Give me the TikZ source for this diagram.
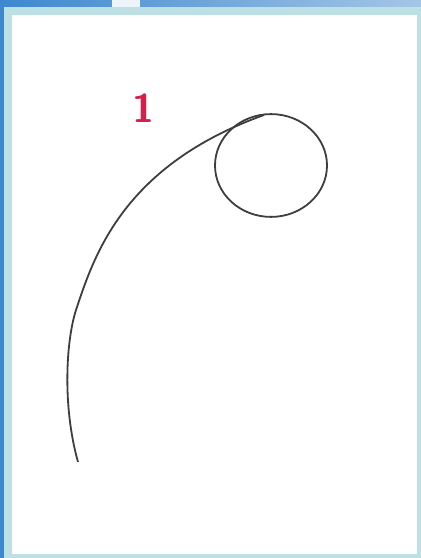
\documentclass[tikz,border=0pt]{standalone}
\usepackage{xcolor}
\usepackage{tikz}
\definecolor{bgBlue}{HTML}{3D88CF}
\definecolor{bgLight}{HTML}{A4C6E6}
\definecolor{frameTeal}{HTML}{BCE0E3}
\definecolor{numRed}{HTML}{D4214C}
\definecolor{inkGray}{HTML}{3E3E3E}

\begin{document}
\begin{tikzpicture}[x=0.5pt, y=-0.5pt]
    % backdrop and frame
    \fill[bgBlue] (0,0) rectangle (421,558);
    \shade[left color=bgBlue, right color=bgLight] (0,0) rectangle (421,7);
    \fill[white!80!bgLight] (112,0) rectangle (140,7);
    \fill[frameTeal] (4,7) rectangle (421,558);
    \fill[white] (12,15) rectangle (417,554);
    % label, circle and curve
    \node[text=numRed, font=\fontsize{20}{20}\sffamily\bfseries] (num) at (143,108) {1};
    \coordinate (ctr) at (271,165.5);
    \coordinate (tail) at (78,462);
    \coordinate (bend) at (77,307);
    \coordinate (top) at (264,115);
    \draw[inkGray, line width=0.9pt] (ctr) ellipse [x radius=28pt, y radius=25.7pt];
    \draw[inkGray, line width=0.9pt]
        (tail) .. controls (62,405) and (66,338) .. (bend)
               .. controls (95,253) and (125,165) .. (top);
\end{tikzpicture}
\end{document}
